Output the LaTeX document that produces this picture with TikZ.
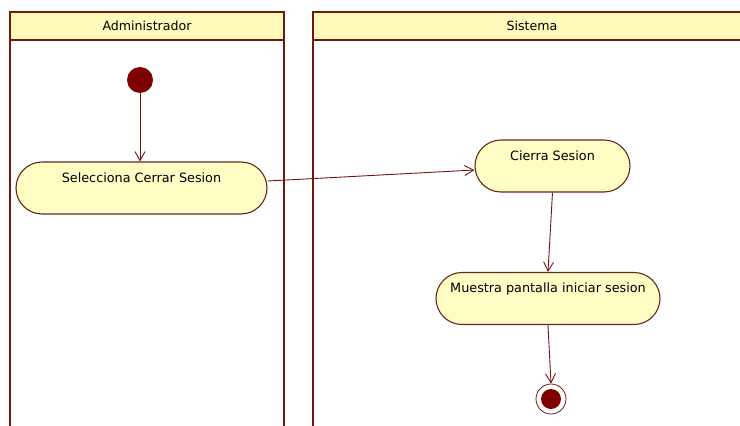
\documentclass[tikz,border=0pt]{standalone}
\usepackage{fontspec}
\setmainfont{DejaVu Sans}
\usetikzlibrary{arrows.meta,shapes.misc}
\definecolor{lane}{RGB}{110,24,16}
\definecolor{hdrfill}{RGB}{255,250,185}
\definecolor{actfill}{RGB}{255,252,196}
\definecolor{actline}{RGB}{100,40,30}
\definecolor{flow}{RGB}{120,20,20}
\definecolor{dot}{RGB}{128,0,0}
\tikzset{
  header/.style={draw=lane, line width=2.6pt, fill=hdrfill, minimum height=28pt, inner sep=0pt,
    font=\fontsize{12.6}{14}\selectfont},
  lanebody/.style={draw=lane, line width=2.6pt},
  action/.style={rounded rectangle, draw=actline, line width=1.1pt, fill=actfill,
    minimum height=52pt, inner xsep=0pt, inner ysep=6pt, text height=14pt, text depth=26pt,
    font=\fontsize{12.8}{14}\selectfont},
  flowline/.style={draw=flow, line width=0.9pt, -{Straight Barb[length=9pt,width=10pt]}},
  startnode/.style={circle, fill=dot, minimum size=26pt, inner sep=0pt},
  endring/.style={circle, draw=flow, line width=0.8pt, fill=white, minimum size=30pt, inner sep=0pt},
  enddot/.style={circle, fill=dot, minimum size=20pt, inner sep=0pt},
}
\begin{document}
\begin{tikzpicture}[x=1pt,y=-1pt]
\useasboundingbox (0,0) rectangle (740,426);
\fill[white] (0,0) rectangle (740,426);
\clip (0,0) rectangle (740,426);
% lanes
\draw[lanebody] (10,40) -- (10,440);
\draw[lanebody] (284,40) -- (284,440);
\draw[lanebody] (313,40) -- (313,440);
\node[header, minimum width=274pt] (h1) at (147,26) {Administrador};
\node[header, minimum width=438pt] (h2) at (532,26) {Sistema};
% nodes
\node[startnode] (start) at (140,80) {};
\node[action, minimum width=251pt] (sel) at (141.5,188) {Selecciona Cerrar Sesion};
\node[action, minimum width=155pt] (cie) at (552.5,166) {Cierra Sesion};
\node[action, minimum width=224pt] (mue) at (548,298.5) {Muestra pantalla iniciar sesion};
\node[endring] (fin) at (551,399) {};
\node[enddot] (findot) at (fin.center) {};
% flows
\draw[flowline] (start.south) -- (sel.north -| start.south);
\draw[flowline] ([yshift=7pt]sel.east) -- ([yshift=-4pt]cie.west);
\draw[flowline] (cie.south) -- (mue.north);
\draw[flowline] (mue.south) -- (fin.north);
\end{tikzpicture}
\end{document}
